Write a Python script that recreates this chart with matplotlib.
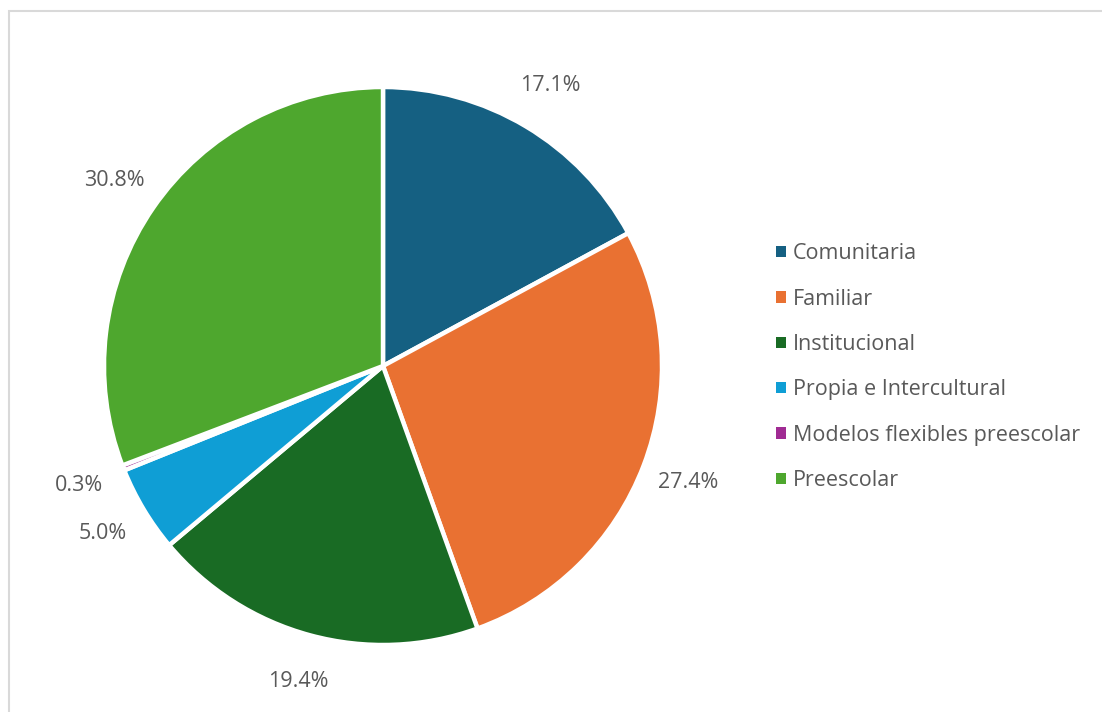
import matplotlib
matplotlib.use('Agg')
import matplotlib.pyplot as plt
from matplotlib.patches import Rectangle

categorias = ['Comunitaria', 'Familiar', 'Institucional', 'Propia e Intercultural',
              'Modelos flexibles preescolar', 'Preescolar']
porcentajes = [17.1, 27.4, 19.4, 5.0, 0.3, 30.8]
colores = ['#156082', '#E97132', '#196B24', '#0F9ED5', '#A02B93', '#4EA72E']

plt.rcParams['font.family'] = ['Open Sans', 'DejaVu Sans']
gris = '#595959'

W, H = 1102, 712
fig = plt.figure(figsize=(W / 100, H / 100), dpi=100)

# marco gris claro del área del gráfico
fig.add_artist(Rectangle((9 / W, -0.01), 1.02, (H - 11) / H + 0.01, transform=fig.transFigure,
                         fill=False, edgecolor='#d9d9d9', linewidth=1.5))

cx, cy, r = 383, 366, 279
ax = fig.add_axes([(cx - r) / W, (H - cy - r) / H, 2 * r / W, 2 * r / H])

wedges, textos, pcts = ax.pie(
    porcentajes, colors=colores, startangle=90, counterclock=False,
    autopct='%1.1f%%', pctdistance=1.17,
    wedgeprops=dict(edgecolor='white', linewidth=3.2),
    textprops=dict(color=gris, fontsize=15.5))
ax.set_xlim(-1, 1)
ax.set_ylim(-1, 1)
ax.set_aspect('equal')

leg = fig.legend(wedges, categorias, loc='upper left',
                 bbox_to_anchor=(757 / W, 1 - 224 / H), frameon=False,
                 fontsize=15.5, handlelength=0.45, handleheight=0.45,
                 handletextpad=0.3, labelspacing=1.13)
for t in leg.get_texts():
    t.set_color(gris)
for h in leg.legend_handles:
    h.set_edgecolor('none')

fig.savefig('out.png', dpi=100)
